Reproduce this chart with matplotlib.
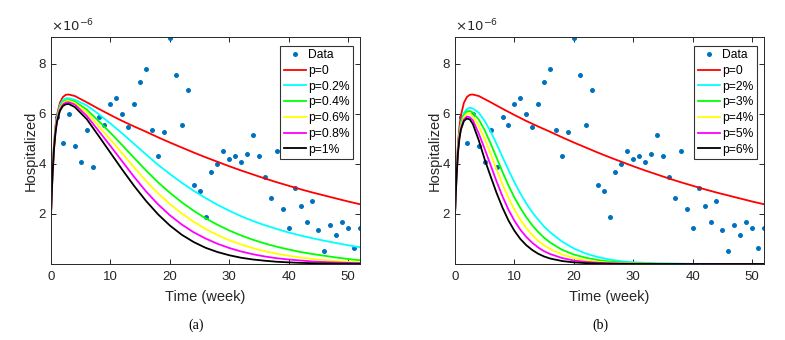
import matplotlib
matplotlib.use("Agg")
import matplotlib.pyplot as plt

plt.rcParams['font.family'] = ['Liberation Sans', 'DejaVu Sans']

# ---------------- data (values in units of 1e-6) ----------------
weeks = list(range(1, 53))
hosp = [5.9, 4.83, 6.0, 4.73, 4.1, 5.37, 3.9, 5.9, 5.58, 6.42,
        6.63, 6.0, 5.48, 6.42, 7.27, 7.79, 5.36, 4.31, 5.27, 9.05,
        7.57, 5.57, 6.95, 3.16, 2.93, 1.89, 3.67, 3.99, 4.52, 4.2,
        4.31, 4.09, 4.41, 5.16, 4.31, 3.47, 2.63, 4.52, 2.2, 1.45,
        3.04, 2.31, 1.68, 2.52, 1.36, 0.52, 1.57, 1.15, 1.68, 1.45,
        0.63, 1.45]

# model curves, panel (a)
t_a = [0, 0.25, 0.5, 0.75, 1, 1.5, 2, 2.5, 3, 4, 6, 8, 10, 12, 14, 16, 18,
       20, 22, 24, 26, 28, 30, 32, 34, 36, 38, 40, 42, 44, 46, 48, 50, 52]
red = [2.0, 3.7, 4.8, 5.5, 5.95, 6.45, 6.68, 6.77, 6.78,
       6.72, 6.47, 6.21, 5.96, 5.72, 5.5, 5.29, 5.07, 4.86, 4.66, 4.46, 4.27,
       4.09, 3.91, 3.74, 3.58, 3.42, 3.27, 3.13, 2.99, 2.86, 2.74, 2.62, 2.5,
       2.39]
a_p02 = [2.0, 3.62, 4.72, 5.4, 5.85, 6.35, 6.56, 6.63, 6.63,
         6.57, 6.35, 6.0, 5.62, 5.22, 4.8, 4.38, 3.97, 3.6, 3.25, 2.93, 2.64,
         2.37, 2.13, 1.91, 1.72, 1.55, 1.4, 1.26, 1.14, 1.03, 0.93, 0.84, 0.75,
         0.67]
a_p04 = [2.0, 3.6, 4.68, 5.35, 5.8, 6.28, 6.48, 6.55, 6.56,
         6.5, 6.18, 5.72, 5.25, 4.75, 4.24, 3.74, 3.27, 2.85, 2.47, 2.13, 1.83,
         1.57, 1.34, 1.14, 0.97, 0.82, 0.69, 0.58, 0.48, 0.4, 0.33, 0.26, 0.2,
         0.15]
a_p06 = [2.0, 3.58, 4.65, 5.31, 5.76, 6.23, 6.43, 6.51, 6.52,
         6.44, 6.06, 5.52, 4.98, 4.42, 3.86, 3.32, 2.83, 2.4, 2.02, 1.69, 1.4,
         1.16, 0.95, 0.78, 0.63, 0.51, 0.41, 0.33, 0.26, 0.2, 0.16, 0.12, 0.09,
         0.07]
a_p08 = [2.0, 3.56, 4.62, 5.28, 5.72, 6.18, 6.38, 6.46, 6.47,
         6.38, 5.93, 5.33, 4.72, 4.1, 3.48, 2.9, 2.39, 1.95, 1.58, 1.27, 1.02,
         0.81, 0.64, 0.5, 0.39, 0.3, 0.23, 0.18, 0.14, 0.1, 0.08, 0.06, 0.045,
         0.035]
a_p1 = [2.0, 3.54, 4.58, 5.24, 5.68, 6.12, 6.32, 6.39, 6.4,
        6.28, 5.8, 5.13, 4.45, 3.77, 3.12, 2.52, 1.99, 1.54, 1.17, 0.88, 0.65,
        0.48, 0.35, 0.25, 0.18, 0.13, 0.09, 0.065, 0.045, 0.032, 0.022, 0.016,
        0.011, 0.008]

# model curves, panel (b)
t_b = [0, 0.25, 0.5, 0.75, 1, 1.5, 2, 2.5, 3, 4, 5, 6, 7, 8, 9, 10, 11, 12,
       13, 14, 15, 16, 18, 20, 22, 24, 26, 28, 30, 34, 40, 52]
b_p2 = [2.0, 3.55, 4.6, 5.25, 5.65, 6.05, 6.2, 6.25, 6.22, 6.05, 5.72, 5.3,
        4.8, 4.28, 3.76, 3.27, 2.82, 2.42, 2.07, 1.77, 1.5, 1.27, 0.9, 0.62,
        0.42, 0.28, 0.18, 0.11, 0.07, 0.025, 0.006, 0.0]
b_p3 = [2.0, 3.52, 4.55, 5.18, 5.57, 5.95, 6.1, 6.12, 6.06, 5.78, 5.35, 4.82,
        4.25, 3.68, 3.14, 2.66, 2.24, 1.87, 1.55, 1.28, 1.05, 0.86, 0.57, 0.38,
        0.25, 0.16, 0.1, 0.06, 0.04, 0.012, 0.003, 0.0]
b_p4 = [2.0, 3.5, 4.52, 5.13, 5.5, 5.88, 6.02, 6.02, 5.92, 5.52, 5.0, 4.4,
        3.78, 3.18, 2.64, 2.17, 1.77, 1.44, 1.16, 0.93, 0.75, 0.6, 0.38, 0.24,
        0.15, 0.09, 0.055, 0.033, 0.02, 0.007, 0.002, 0.0]
b_p5 = [2.0, 3.48, 4.48, 5.07, 5.43, 5.78, 5.9, 5.87, 5.75, 5.22, 4.6, 3.95,
        3.3, 2.7, 2.17, 1.73, 1.37, 1.08, 0.85, 0.66, 0.51, 0.4, 0.24, 0.14,
        0.085, 0.05, 0.03, 0.018, 0.01, 0.004, 0.001, 0.0]
b_p6 = [2.0, 3.45, 4.45, 5.03, 5.38, 5.72, 5.82, 5.78, 5.6, 4.95, 4.18, 3.5,
        2.84, 2.25, 1.74, 1.33, 1.0, 0.75, 0.56, 0.41, 0.3, 0.22, 0.12, 0.065,
        0.035, 0.02, 0.011, 0.006, 0.003, 0.001, 0.0, 0.0]

labels_a = ['p=0', 'p=0.2%', 'p=0.4%', 'p=0.6%', 'p=0.8%', 'p=1%']
labels_b = ['p=0', 'p=2%', 'p=3%', 'p=4%', 'p=5%', 'p=6%']
colors = ['#FF0000', '#00FFFF', '#00FF00', '#FFFF00', '#FF00FF', '#000000']
x_ticks = [0, 10, 20, 30, 40, 50]
y_ticks = [2, 4, 6, 8]

# ---------------- figure ----------------
W, H = 785, 340
fig = plt.figure(figsize=(W / 100, H / 100), dpi=100)

def px_axes(x0, y0, x1, y1):
    return fig.add_axes([x0 / W, 1 - y1 / H, (x1 - x0) / W, (y1 - y0) / H])

ax_a = px_axes(51, 37, 360, 264)
ax_b = px_axes(455, 37, 764, 264)

panels = [
    (ax_a, [(t_a, red), (t_a, a_p02), (t_a, a_p04), (t_a, a_p06), (t_a, a_p08), (t_a, a_p1)],
     labels_a, '(a)', 196),
    (ax_b, [(t_a, red), (t_b, b_p2), (t_b, b_p3), (t_b, b_p4), (t_b, b_p5), (t_b, b_p6)],
     labels_b, '(b)', 600),
]

axis_col = '#262626'
for ax, curves, labels, tag, tagx in panels:
    handles = []
    h = ax.plot(weeks, hosp, linestyle='none', marker='o', markersize=3.6,
                color='#0072BD', markeredgewidth=0, label='Data')[0]
    handles.append(h)
    for i, ((t, c), lab) in enumerate(zip(curves, labels)):
        hh = ax.plot(t, c, color=colors[i], lw=1.3, label=lab,
                     solid_joinstyle='round')[0]
        handles.append(hh)
    ax.set_xlim(0, 52)
    ax.set_ylim(0, 9.08)
    ax.set_xticks(x_ticks)
    ax.set_yticks(y_ticks)
    ax.tick_params(direction='in', length=3.5, width=0.7, colors=axis_col,
                   labelsize=9.5, top=True, right=True)
    ax.tick_params(axis='x', pad=5)
    ax.tick_params(axis='y', pad=3.5)
    for s in ax.spines.values():
        s.set_color(axis_col)
        s.set_linewidth(0.7)
    leg = ax.legend(handles=handles, loc='upper right',
                    bbox_to_anchor=((353 - 51) / 309, (264 - 45.5) / 227),
                    borderaxespad=0, fontsize=8.7, frameon=True, fancybox=False,
                    handlelength=1.85, handletextpad=0.15, labelspacing=0.31,
                    borderpad=0.3, edgecolor='#000000')
    leg.get_frame().set_linewidth(0.8)
    ax.text(0.0, 1.012, r'$\times10^{-6}$', transform=ax.transAxes,
            fontsize=9.5, color=axis_col, ha='left', va='bottom')
    ax.set_xlabel('Time (week)', fontsize=10.5, color=axis_col, labelpad=5)
    ax.set_ylabel('Hospitalized', fontsize=10.5, color=axis_col, labelpad=1)
    fig.text(tagx / W, 1 - 325 / H, tag, fontsize=10, family='Liberation Serif',
             ha='center', va='center')

fig.savefig('out.png', dpi=100)
